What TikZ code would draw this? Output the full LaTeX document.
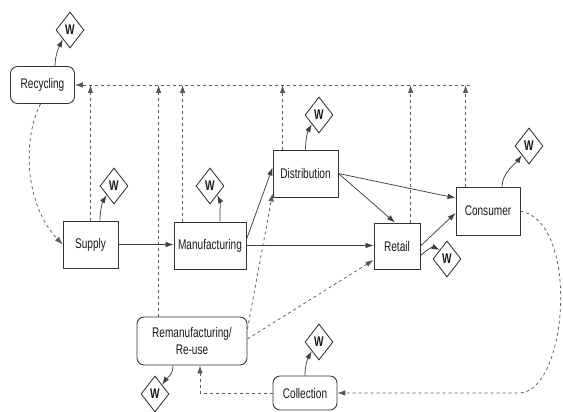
\documentclass[tikz,border=0pt]{standalone}
\usepackage{fontspec}
\setmainfont[FakeStretch=0.72]{Liberation Sans}
\usetikzlibrary{shapes.geometric,arrows.meta,calc}
\begin{document}
\begin{tikzpicture}[x=1pt,y=-1pt,
  box/.style={draw=black!80,line width=0.85pt,fill=white,inner sep=0pt,font=\fontsize{14}{17}\selectfont,text=black!90,align=center},
  rbox/.style={box,rounded corners=7pt},
  wd/.style={diamond,draw=black!80,line width=0.85pt,fill=white,inner sep=0pt,minimum width=28pt,minimum height=36pt,font=\bfseries\fontsize{14}{14}\selectfont,text=black!90},
  flow/.style={draw=black!75,line width=0.75pt,-{Latex[length=8pt,width=5.5pt]}},
  rev/.style={flow,draw=black!65,dash pattern=on 3pt off 3pt},
]
\useasboundingbox (0,0) rectangle (563,412);
% process boxes
\node[rbox,minimum width=64,minimum height=37] (rec) at (42.5,85) {Recycling};
\node[box,minimum width=55,minimum height=47] (supply) at (90.5,244.5) {Supply};
\node[box,minimum width=72,minimum height=47] (manu) at (210,245.5) {Manufacturing};
\node[box,minimum width=65,minimum height=47] (dist) at (305.5,173.5) {Distribution};
\node[box,minimum width=46,minimum height=46] (retail) at (397,246) {Retail};
\node[box,minimum width=64,minimum height=48] (consumer) at (488,211) {Consumer};
\node[rbox,minimum width=110,minimum height=48] (reman) at (192,341) {Remanufacturing/\\Re-use};
\node[rbox,minimum width=64,minimum height=34] (coll) at (305,393) {Collection};
% waste diamonds
\node[wd] (wrec) at (70,30) {W};
\node[wd] (wsup) at (114,186) {W};
\node[wd] (wman) at (210,186) {W};
\node[wd] (wdist) at (319,115) {W};
\node[wd] (wcons) at (529,146) {W};
\node[wd] (wret) at (447,259) {W};
\node[wd] (wcoll) at (319,342) {W};
\node[wd] (wrem) at (155,394) {W};
% recycling return lines
\coordinate (tr) at (470,85);
\coordinate (vsup) at (supply.north);
\coordinate (vrem) at ($(reman.north west)+(22,0)$);
\coordinate (vman) at ($(manu.north west)+(9,0)$);
\coordinate (vdist) at ($(dist.north west)+(10,0)$);
\coordinate (vret) at ($(retail.north west)+(37,0)$);
\coordinate (vcons) at ($(consumer.north west)+(10,0)$);
\draw[rev] (tr) -- (rec.east);
\foreach \v in {vsup,vrem,vman,vdist,vret,vcons}
  \draw[rev] (\v) -- (\v |- rec.east);
% forward flows
\draw[flow] (supply.east) -- (supply.east -| manu.west);
\draw[flow] (manu.east) -- (manu.east -| retail.west);
\draw[flow] ($(manu.east)+(0,-6)$) -- ($(dist.west)+(0,-6)$);
\draw[flow] (dist.east) -- ($(retail.north)+(-2,0)$);
\draw[flow] (dist.east) -- ($(consumer.west)+(0,-13)$);
\draw[flow] (retail.east) -- ($(consumer.west)+(0,2)$);
% reverse flows
\draw[rev] ($(reman.east)+(0,-12)$) -- ($(dist.south west)+(0,-4)$);
\draw[rev] ($(reman.east)+(0,-2)$) -- ($(retail.west)+(0,14)$);
\draw[rev] (coll.west) -| ($(reman.south)+(8,0)$);
\draw[rev] (consumer.east) .. controls (580,222) and (568,390) .. (520,393) -- (coll.east);
\draw[rev] ($(rec.south)+(-2,0)$) .. controls (22,140) and (25,205) .. (supply.west);
% waste arrows
\draw[flow] ($(rec.north)+(12.5,0)$) .. controls +(0,-10) and +(-4,8) .. (wrec.south west);
\draw[flow] ($(supply.north)+(9.5,0)$) .. controls +(0,-10) and +(-4,6) .. (wsup.south west);
\draw[flow] ($(manu.north)+(10,0)$) .. controls +(0,-12) and +(3,6) .. (wman.south east);
\draw[flow] (dist.north) .. controls +(0,-10) and +(-4,7) .. (wdist.south west);
\draw[flow] ($(consumer.north)+(14,0)$) .. controls +(0,-14) and +(-5,7) .. (wcons.south west);
\draw[flow] ($(retail.east)+(0,10)$) .. controls +(4,-5) and +(-7,-3) .. (wret.north west);
\draw[flow] (coll.north) .. controls +(0,-10) and +(-4,7) .. (wcoll.south west);
\draw[flow] ($(reman.south)+(-19,0)$) .. controls +(0,10) and +(4,-6) .. (wrem.north east);
\end{tikzpicture}
\end{document}
